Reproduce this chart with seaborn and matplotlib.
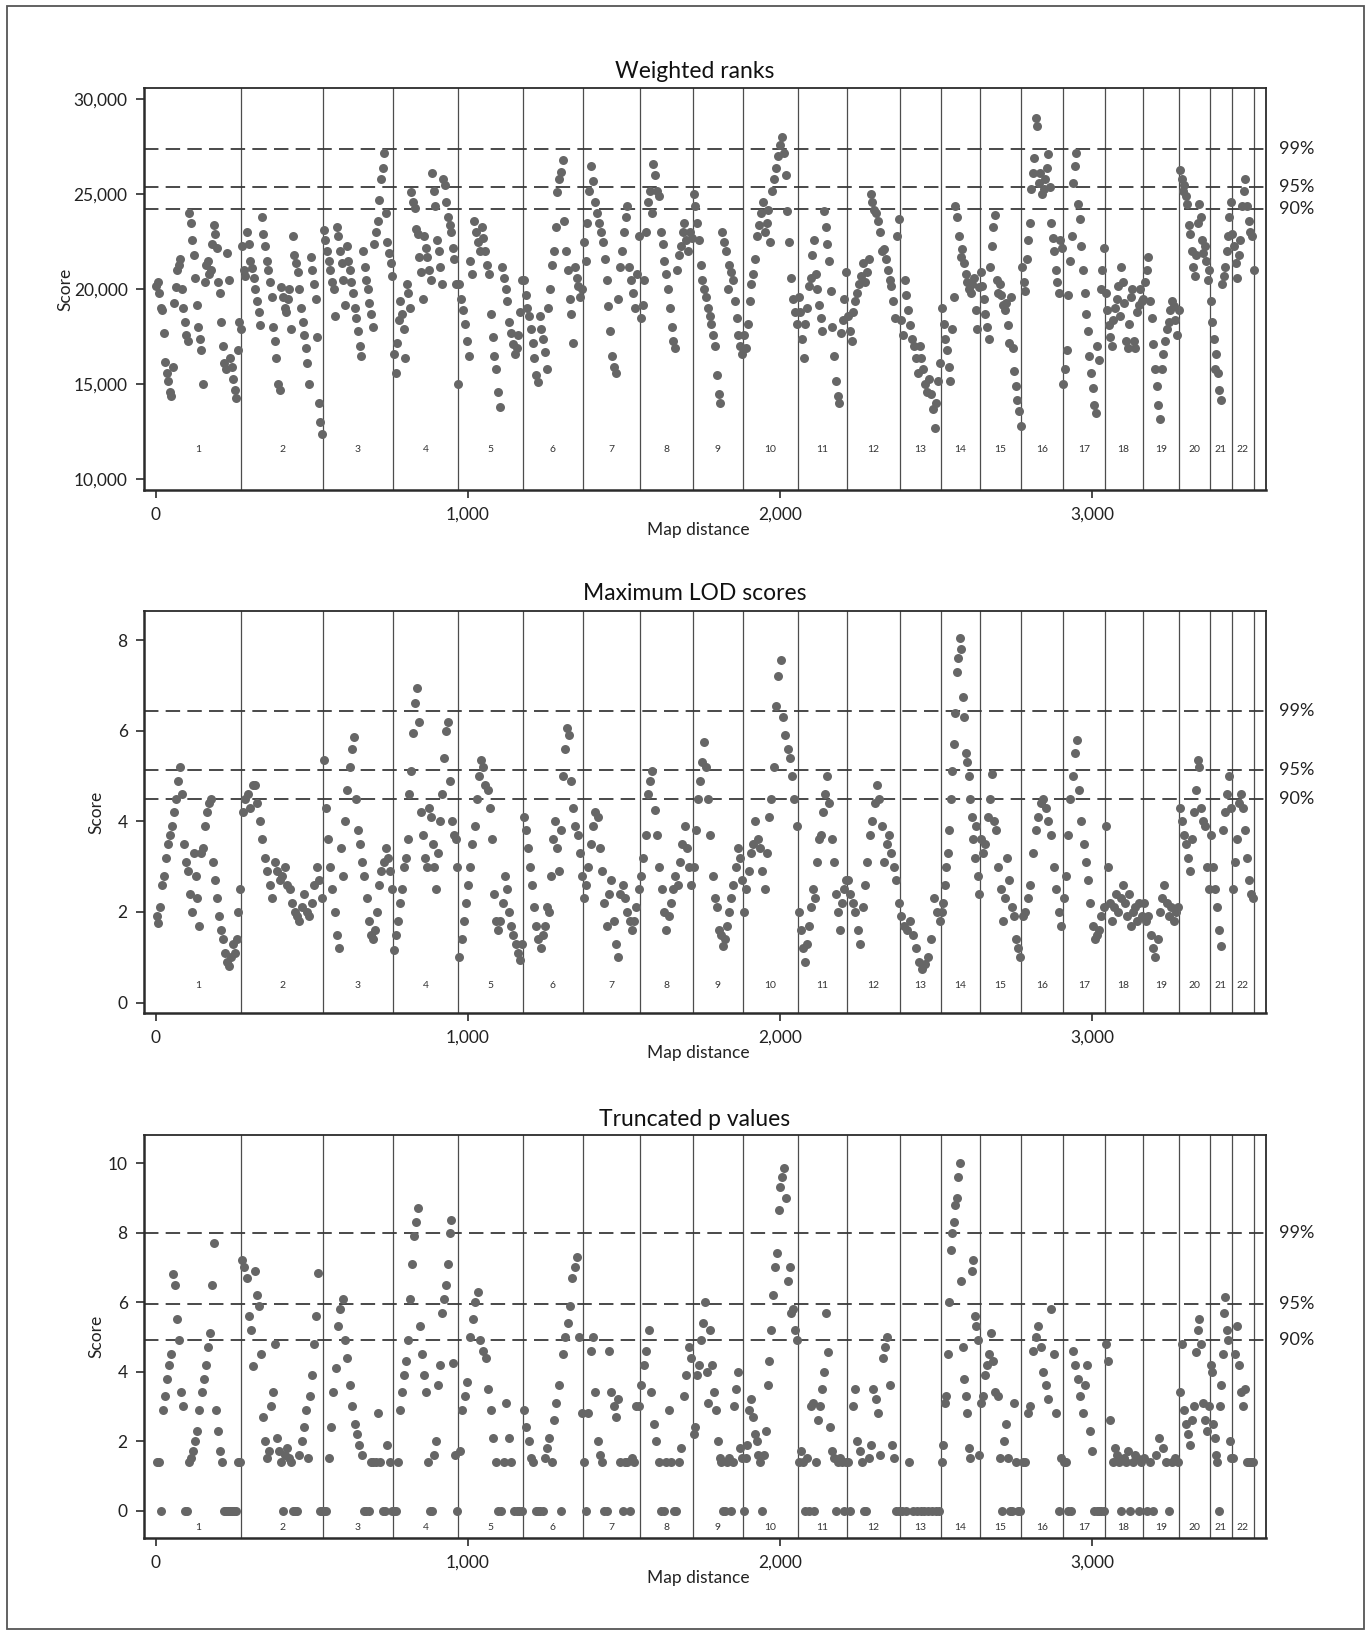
import numpy as np
import pandas as pd
import matplotlib
matplotlib.use("Agg")
import matplotlib.pyplot as plt
import matplotlib.transforms as mtransforms
from matplotlib.patches import Rectangle
from matplotlib.ticker import FuncFormatter
import seaborn as sns

# ---------------- data ----------------
chrom_bounds = [0, 275, 536, 761, 970, 1177, 1368, 1551, 1720, 1881, 2057, 2214,
                2384, 2516, 2640, 2773, 2905, 3040, 3161, 3279, 3377, 3446, 3519]
chrom_labels = [str(i) for i in range(1, 23)]
threshold_names = ["99%", "95%", "90%"]

# Weighted ranks (in thousands), per chromosome, in map order
weighted_ranks_k = [
    [20.2, 20.4, 19.8, 19.0, 18.9, 17.7, 16.2, 15.6, 15.2, 14.6, 14.4, 15.9, 19.3, 20.1, 21.0, 21.3, 21.6, 20.0, 19.0, 18.3, 17.6, 17.3, 24.0, 23.5, 22.6, 21.8, 20.6, 19.2, 18.0, 17.4, 16.8, 15.0, 20.4, 21.3, 21.5, 20.8, 21.0, 22.4, 23.4, 22.9, 22.2, 20.4, 19.8, 18.3, 17.0, 16.1, 15.8, 21.9, 20.5, 16.4, 15.9, 15.3, 14.7, 14.3, 16.8, 18.3, 17.9],
    [22.3, 21.0, 20.7, 23.0, 22.4, 21.5, 21.1, 20.6, 20.0, 19.4, 18.8, 18.1, 23.8, 22.9, 22.3, 21.5, 21.0, 20.4, 19.6, 18.0, 17.3, 16.4, 15.0, 14.7, 20.1, 19.6, 19.0, 18.8, 19.5, 20.0, 17.9, 22.8, 21.8, 21.4, 20.9, 20.0, 19.0, 18.3, 17.6, 16.9, 16.1, 15.0, 21.7, 21.0, 20.3, 19.5, 17.5, 14.0, 13.0, 12.4],
    [23.1, 22.6, 22.0, 21.5, 21.0, 20.4, 20.0, 18.6, 23.3, 22.8, 22.0, 21.4, 20.5, 19.2, 22.3, 21.5, 21.0, 20.4, 19.8, 19.0, 18.5, 17.8, 17.0, 16.5, 22.0, 21.2, 20.5, 20.0, 19.3, 18.7, 18.0, 22.4, 23.0, 23.6, 24.7, 25.8, 26.4, 27.2, 24.0, 22.5, 21.9, 21.4, 20.7],
    [16.6, 15.6, 17.2, 18.4, 19.4, 18.7, 17.9, 16.4, 20.3, 19.8, 19.0, 25.1, 24.6, 24.3, 23.2, 22.9, 21.7, 20.9, 19.5, 22.8, 22.2, 21.7, 21.0, 20.5, 26.1, 25.2, 24.4, 22.6, 22.0, 21.2, 20.3, 25.8, 25.5, 24.6, 23.8, 23.4, 23.0, 22.2, 21.6, 20.3, 15.0],
    [20.3, 19.5, 18.9, 18.2, 17.3, 16.5, 21.5, 20.8, 23.6, 23.0, 22.5, 22.0, 23.3, 22.7, 22.0, 21.3, 20.8, 18.7, 17.5, 16.5, 15.8, 14.6, 13.8, 21.2, 20.6, 20.0, 19.4, 18.3, 17.7, 17.1, 16.6, 16.9, 17.6, 18.8, 20.5],
    [20.5, 19.7, 19.0, 18.6, 17.9, 17.2, 16.4, 15.5, 15.1, 18.6, 17.9, 17.4, 16.7, 15.8, 19.0, 20.0, 21.3, 22.0, 23.3, 25.1, 25.8, 26.2, 26.8, 23.6, 22.0, 21.0, 19.5, 18.7, 17.2, 21.2, 20.6, 20.2, 19.6, 20.0],
    [22.5, 21.5, 23.5, 25.2, 26.5, 25.7, 24.6, 24.0, 23.5, 23.0, 22.5, 21.6, 20.5, 19.1, 17.8, 16.5, 15.9, 15.6, 19.5, 21.2, 22.0, 23.0, 23.8, 24.4, 21.2, 20.5, 19.8, 19.0, 20.8, 22.8],
    [18.5, 19.2, 20.5, 23.0, 24.6, 25.2, 24.0, 26.6, 26.0, 25.2, 24.9, 23.0, 22.4, 21.5, 20.8, 20.0, 19.0, 18.0, 17.3, 16.9, 21.0, 21.8, 22.3, 23.0, 23.5, 22.6, 22.0, 23.0, 22.7],
    [25.0, 24.4, 23.5, 22.6, 21.3, 20.5, 20.0, 19.6, 19.0, 18.6, 18.2, 17.6, 17.0, 15.5, 14.5, 14.0, 23.0, 22.5, 22.0, 20.0, 21.3, 20.9, 20.5, 19.4, 18.5, 17.6, 17.0, 16.6],
    [17.6, 16.9, 18.2, 19.4, 20.3, 20.8, 21.6, 22.8, 23.4, 24.0, 24.6, 23.0, 23.5, 24.2, 22.5, 25.2, 25.8, 26.4, 27.0, 27.6, 28.0, 27.2, 26.0, 24.1, 22.5, 20.6, 19.5, 18.8, 18.2],
    [19.6, 18.8, 17.4, 16.4, 18.2, 19.0, 20.2, 20.6, 21.8, 22.6, 20.8, 20.0, 19.2, 18.5, 17.8, 24.1, 23.3, 22.4, 21.5, 19.9, 18.0, 16.5, 15.2, 14.4, 14.0, 17.7, 18.4, 19.5, 20.9],
    [18.6, 17.8, 17.3, 18.8, 19.4, 19.8, 20.3, 20.7, 21.4, 20.4, 20.9, 21.6, 25.0, 24.6, 24.2, 24.0, 23.6, 23.0, 22.0, 22.1, 21.6, 21.0, 20.5, 20.2, 19.4, 18.5, 22.8, 23.7],
    [18.4, 17.6, 20.5, 19.7, 18.9, 18.1, 17.4, 17.0, 16.4, 15.6, 17.0, 16.4, 15.8, 15.0, 14.6, 15.3, 14.5, 13.7, 12.7, 14.0, 15.2, 16.1],
    [19.0, 18.2, 17.4, 16.8, 15.9, 15.2, 17.9, 19.6, 24.4, 23.8, 22.8, 21.7, 22.1, 21.4, 20.8, 20.4, 20.0, 19.8, 20.3, 20.6, 18.9, 17.9, 20.1],
    [20.9, 20.2, 19.5, 18.7, 18.0, 17.4, 21.2, 22.3, 23.3, 23.9, 20.5, 19.8, 20.3, 19.7, 19.2, 18.9, 19.3, 18.1, 17.2, 19.6, 16.9, 15.7, 14.9, 14.2, 13.6, 12.8],
    [21.2, 20.4, 19.9, 21.6, 22.6, 23.5, 25.3, 26.1, 26.9, 29.0, 28.6, 25.6, 26.1, 25.0, 25.3, 25.8, 26.4, 27.1, 25.4, 23.5, 22.7, 22.0, 21.0, 20.4, 19.8, 22.6, 22.2],
    [15.0, 15.8, 16.8, 19.7, 21.5, 22.8, 25.6, 26.5, 27.2, 24.5, 23.7, 22.3, 21.0, 19.8, 18.7, 17.8, 16.5, 15.6, 14.8, 13.9, 13.5, 17.0, 16.3, 20.0, 21.0, 22.2],
    [19.8, 18.9, 18.1, 17.5, 17.0, 18.4, 19.0, 19.5, 20.2, 18.6, 21.2, 20.4, 19.3, 17.3, 16.9, 18.2, 19.6, 20.0, 17.3, 16.9, 18.8, 19.2, 20.0, 19.4],
    [19.5, 20.4, 21.0, 21.7, 19.4, 18.5, 17.1, 15.8, 14.9, 13.9, 13.2, 15.8, 16.6, 17.3, 17.9, 18.3, 18.9, 19.4, 19.1, 18.4, 17.6, 18.9],
    [26.3, 25.8, 25.2, 25.5, 24.9, 24.5, 23.4, 22.9, 22.0, 21.2, 20.7, 21.8, 23.5, 24.5, 23.8, 22.6, 21.9, 22.3, 21.5, 20.5, 21.0],
    [19.4, 18.3, 17.4, 15.8, 16.6, 15.6, 14.7, 14.2, 20.3, 20.7, 21.2, 22.0, 22.8, 23.8, 24.6],
    [22.9, 22.3, 21.4, 20.6, 21.8, 22.6, 24.4, 25.2, 25.8, 24.4, 23.6, 23.0, 22.8, 21.0],
]

max_lod = [
    [1.9, 1.75, 2.1, 2.6, 2.8, 3.2, 3.5, 3.7, 3.9, 4.2, 4.5, 4.9, 5.2, 4.6, 3.5, 3.1, 2.9, 2.4, 2.0, 3.3, 2.8, 2.3, 1.7, 3.3, 3.4, 3.9, 4.2, 4.4, 4.5, 3.1, 2.7, 2.3, 1.9, 1.6, 1.4, 1.1, 0.9, 0.8, 1.0, 1.3, 1.1, 1.4, 2.0, 2.5],
    [4.2, 4.5, 4.6, 4.3, 4.8, 4.8, 4.4, 4.0, 3.6, 3.2, 2.9, 2.6, 2.3, 3.1, 2.9, 2.7, 2.8, 3.0, 2.6, 2.5, 2.2, 2.0, 1.9, 1.8, 2.1, 2.4, 2.0, 1.9, 2.2, 2.6, 3.0, 2.7, 2.3],
    [5.35, 4.3, 3.6, 3.0, 2.5, 2.0, 1.5, 1.2, 3.4, 2.8, 4.0, 4.7, 5.2, 5.6, 5.85, 4.5, 3.8, 3.5, 3.1, 2.8, 2.3, 1.8, 1.5, 1.4, 1.6, 2.0, 2.6, 2.9, 3.1, 3.4, 3.2, 2.9, 2.5],
    [1.15, 1.5, 1.8, 2.2, 2.5, 3.0, 3.2, 3.6, 4.6, 5.1, 5.95, 6.6, 6.95, 6.2, 4.2, 3.7, 3.2, 3.0, 4.3, 4.1, 3.5, 3.0, 2.5, 3.3, 4.0, 4.6, 5.4, 6.0, 6.2, 4.9, 4.0, 3.7, 3.6, 3.0],
    [1.0, 1.4, 1.8, 2.2, 2.6, 3.0, 3.5, 3.9, 4.5, 5.0, 5.35, 5.2, 4.8, 4.7, 4.3, 3.6, 2.4, 1.8, 1.6, 1.8, 2.2, 2.8, 2.5, 2.0, 1.7, 1.5, 1.3, 1.1, 0.95, 1.3],
    [4.1, 3.8, 3.4, 3.0, 2.6, 2.1, 1.7, 1.4, 1.2, 1.5, 1.7, 2.1, 2.0, 2.8, 3.6, 4.0, 3.4, 2.9, 3.8, 5.0, 5.6, 6.05, 5.9, 4.9, 4.3, 3.9, 3.7, 3.3, 2.8],
    [2.3, 2.6, 3.0, 3.5, 3.9, 4.2, 4.1, 3.4, 2.9, 2.2, 1.7, 2.4, 2.7, 1.8, 1.3, 1.0, 2.4, 2.6, 2.3, 2.0, 1.8, 1.6, 1.8, 2.1, 2.5],
    [2.8, 3.2, 3.7, 4.6, 4.9, 5.1, 4.25, 3.7, 3.0, 2.5, 2.0, 1.6, 1.9, 2.2, 2.5, 2.8, 2.6, 3.1, 3.5, 3.9, 3.4, 3.0, 2.6],
    [3.0, 3.8, 4.5, 4.9, 5.3, 5.75, 5.2, 4.5, 3.7, 2.8, 2.3, 2.1, 1.6, 1.5, 1.25, 1.4, 1.7, 2.0, 2.3, 2.6, 3.0, 3.4, 3.2, 2.7],
    [2.0, 2.5, 2.9, 3.3, 3.5, 4.0, 3.6, 3.4, 2.9, 2.5, 3.3, 4.1, 4.5, 5.2, 6.55, 7.2, 7.55, 6.3, 5.9, 5.6, 5.4, 5.0, 4.5, 3.9],
    [2.0, 1.6, 1.2, 0.9, 1.3, 1.7, 2.1, 2.5, 2.3, 3.1, 3.6, 3.7, 4.2, 4.6, 5.0, 4.4, 3.6, 3.1, 2.4, 2.0, 1.6, 2.2, 2.5, 2.7],
    [2.7, 2.4, 2.2, 2.0, 1.6, 1.3, 2.1, 2.6, 3.1, 3.7, 4.0, 4.4, 4.8, 4.5, 3.9, 3.1, 3.5, 3.7, 3.3, 3.0, 2.7, 2.2],
    [1.9, 1.7, 1.6, 1.8, 1.5, 1.2, 0.9, 0.75, 0.85, 1.0, 1.4, 2.3, 2.0, 1.8],
    [2.0, 2.2, 2.6, 3.0, 3.3, 3.8, 4.5, 5.1, 5.7, 6.4, 7.3, 7.6, 8.05, 7.8, 6.75, 6.3, 5.5, 5.3, 5.0, 4.5, 4.1, 3.6, 3.2, 3.9, 2.8, 2.4],
    [3.6, 3.3, 3.5, 4.1, 4.5, 5.05, 4.0, 3.8, 3.0, 2.5, 1.8, 2.3, 3.2, 2.7, 2.1, 1.9, 1.4, 1.2, 1.0],
    [1.9, 2.0, 2.3, 2.6, 3.3, 3.8, 4.1, 4.4, 4.5, 4.3, 4.0, 3.7, 3.0, 2.5, 2.0, 1.7],
    [2.3, 2.8, 3.7, 4.5, 5.0, 5.5, 5.8, 4.7, 4.0, 3.5, 3.1, 2.7, 2.2, 1.7, 1.4, 1.5, 1.6, 1.9, 2.1],
    [3.9, 3.0, 2.2, 1.8, 2.1, 2.4, 2.0, 2.3, 2.6, 2.2, 1.9, 2.4, 1.7, 2.0, 2.1, 1.8, 2.2, 1.9],
    [2.2, 1.8, 1.9, 1.5, 1.2, 1.0, 1.4, 2.0, 2.3, 2.6, 2.2, 1.9, 2.1, 1.8, 2.0, 2.1],
    [4.3, 4.0, 3.7, 3.5, 3.2, 2.9, 3.6, 4.2, 4.7, 5.35, 5.2, 4.3, 4.0, 3.9, 3.0, 2.5],
    [3.7, 3.0, 2.5, 2.1, 1.6, 1.25, 3.8, 4.2, 4.6, 5.0, 4.3],
    [2.5, 3.1, 3.6, 4.4, 4.6, 4.3, 3.8, 3.2, 2.7, 2.4, 2.3],
]

truncated_p = [
    [1.4, 1.4, 0, 2.9, 3.3, 3.8, 4.2, 4.5, 6.8, 6.5, 5.5, 4.9, 3.4, 3.0, 0, 0, 1.4, 1.5, 1.7, 2.0, 2.3, 2.9, 3.4, 3.8, 4.2, 4.7, 5.1, 6.5, 7.7, 2.9, 2.3, 1.7, 1.4, 0, 0, 0, 0, 0, 0, 0, 1.4, 1.4],
    [7.2, 7.0, 6.7, 5.6, 5.2, 4.15, 6.9, 6.2, 5.9, 4.5, 2.7, 2.0, 1.5, 1.7, 3.0, 3.4, 4.8, 2.1, 1.7, 1.4, 0, 1.6, 1.8, 1.5, 1.4, 0, 0, 0, 1.6, 2.0, 2.4, 2.9, 1.5, 3.3, 3.9, 4.8, 5.6, 6.85, 0, 0],
    [0, 0, 1.5, 2.4, 3.4, 4.1, 5.3, 5.8, 6.1, 4.9, 4.4, 3.6, 3.0, 2.5, 2.2, 1.9, 1.6, 0, 0, 0, 1.4, 1.4, 1.4, 2.8, 1.4, 0, 0, 1.9, 1.4, 0],
    [0, 0, 1.4, 2.9, 3.4, 3.9, 4.3, 4.9, 6.1, 7.1, 7.9, 8.3, 8.7, 5.3, 4.5, 3.9, 3.4, 1.4, 0, 0, 1.6, 2.0, 3.6, 4.2, 5.7, 6.1, 6.5, 7.1, 8.0, 8.35, 4.25, 1.6, 0],
    [1.7, 2.9, 3.3, 3.7, 5.0, 5.5, 6.0, 6.3, 4.9, 4.6, 4.4, 3.5, 2.9, 2.1, 1.4, 0, 0, 1.4, 3.1, 2.1, 1.4, 0, 0, 0, 0],
    [2.9, 2.4, 2.0, 1.5, 1.4, 0, 0, 0, 0, 1.5, 1.8, 2.1, 1.4, 2.6, 3.1, 3.6, 0, 4.5, 5.0, 5.4, 5.9, 6.7, 7.0, 7.3, 5.0, 2.8],
    [1.4, 0, 2.8, 4.6, 5.0, 3.4, 2.0, 1.6, 1.4, 0, 0, 4.6, 3.4, 3.0, 2.7, 3.2, 1.4, 0, 1.4, 1.4, 0, 1.5, 1.4, 3.0, 3.0],
    [3.6, 4.2, 4.6, 5.2, 3.4, 2.5, 2.0, 1.4, 0, 0, 1.4, 2.9, 1.4, 0, 0, 1.4, 1.8, 3.3, 3.9, 4.7, 4.4],
    [2.2, 2.4, 3.9, 4.2, 4.9, 5.4, 6.0, 4.0, 3.1, 5.2, 4.2, 3.4, 2.9, 2.0, 1.5, 1.4, 0, 0, 1.4, 1.5, 0, 1.4, 3.0, 3.5, 4.0, 1.8, 1.5],
    [0, 1.5, 1.9, 2.9, 3.2, 2.7, 2.2, 2.0, 1.6, 1.4, 0, 1.6, 2.3, 3.6, 4.3, 5.2, 6.2, 7.0, 7.4, 8.65, 9.3, 9.6, 9.85, 9.0, 6.6, 7.0, 5.7, 5.8, 5.2, 4.9],
    [1.4, 1.7, 1.4, 0, 1.5, 0, 3.0, 3.1, 0, 1.4, 2.6, 3.0, 3.5, 4.0, 5.7, 4.55, 2.4, 1.7, 1.5, 0, 1.4, 1.5, 1.4, 0, 1.4],
    [1.4, 0, 3.0, 3.5, 2.0, 1.7, 1.4, 0, 0, 1.5, 1.9, 3.5, 3.2, 2.8, 1.6, 4.4, 4.7, 5.0, 3.6, 1.9, 1.5, 0, 0],
    [0, 0, 1.4, 0, 0, 0, 0, 0, 0, 0, 0],
    [1.4, 1.9, 3.1, 3.3, 4.5, 6.0, 7.5, 8.0, 8.3, 8.8, 9.0, 9.6, 10.0, 6.6, 4.7, 3.8, 3.3, 2.8, 1.8, 1.5, 6.9, 7.2, 5.6, 5.3, 4.9, 1.6],
    [3.1, 3.3, 3.9, 4.2, 4.5, 5.1, 4.3, 3.4, 3.3, 1.5, 0, 2.0, 2.5, 1.5, 0, 0, 3.1, 1.4, 0, 0],
    [1.4, 1.4, 2.8, 3.0, 4.6, 5.0, 5.3, 4.7, 4.0, 3.6, 3.2, 5.8, 4.5, 2.8, 0, 1.5],
    [1.4, 1.4, 0, 0, 4.6, 4.2, 3.8, 3.3, 2.8, 3.6, 4.2, 2.3, 1.7, 0, 0, 0, 0, 0],
    [4.8, 4.3, 2.6, 1.4, 1.8, 1.6, 1.4, 0, 1.5, 1.4, 1.7, 0, 1.4, 1.6, 1.5, 0, 1.4],
    [1.5, 0, 1.4, 0, 1.6, 2.1, 1.8, 1.4, 0, 1.4, 1.5, 1.4],
    [3.4, 4.8, 2.9, 2.5, 2.2, 1.9, 2.6, 3.0, 4.55, 5.2, 5.5, 4.8, 3.1, 2.6, 2.3, 3.0],
    [4.2, 4.0, 2.5, 2.1, 1.6, 1.4, 0, 3.0, 3.6, 4.5, 5.7, 6.15, 5.2, 4.9, 2.0, 1.5],
    [1.5, 4.5, 5.3, 4.2, 3.4, 3.0, 3.5, 1.4, 1.4, 1.4, 1.4],
]

thresholds_wr = [27410, 25370, 24230]
thresholds_lod = [6.43, 5.13, 4.50]
thresholds_p = [8.0, 5.95, 4.91]

titles = ["Weighted ranks", "Maximum LOD scores", "Truncated p values"]


def build_df(values_by_chr, scale=1.0):
    rows = []
    for ci, vals in enumerate(values_by_chr):
        start, end = chrom_bounds[ci], chrom_bounds[ci + 1]
        n = len(vals)
        for i, v in enumerate(vals):
            rows.append((start + (i + 0.5) * (end - start) / n, v * scale))
    return pd.DataFrame(rows, columns=["pos", "score"])


df_wr = build_df(weighted_ranks_k, 1000.0)
df_lod = build_df(max_lod)
df_p = build_df(truncated_p)

# ---------------- styling ----------------
sns.set_theme(style="ticks")
plt.rcParams['font.family'] = ['Lato', 'DejaVu Sans']

W, H = 1371, 1637
fig = plt.figure(figsize=(W / 100, H / 100), dpi=100)
fig.patch.set_facecolor("white")

# outer frame
fig.patches.append(Rectangle((7 / W, 1 - 1629 / H), 1357 / W, 1623 / H,
                             transform=fig.transFigure, fill=False,
                             edgecolor="#555555", linewidth=1.3))

left_px, right_px = 144.3, 1266.2
panels = [
    dict(df=df_wr, top=88, bottom=490, ylim=(9440, 30600),
         yticks=[10000, 15000, 20000, 25000, 30000], thr=thresholds_wr,
         chr_y=0.101, ylab_x=65, title_y=71, comma=True),
    dict(df=df_lod, top=611, bottom=1013, ylim=(-0.23, 8.64),
         yticks=[0, 2, 4, 6, 8], thr=thresholds_lod,
         chr_y=0.068, ylab_x=96, title_y=593, comma=False),
    dict(df=df_p, top=1135, bottom=1538, ylim=(-0.79, 10.81),
         yticks=[0, 2, 4, 6, 8, 10], thr=thresholds_p,
         chr_y=0.025, ylab_x=96, title_y=1119, comma=False),
]

comma_fmt = FuncFormatter(lambda v, p: f"{int(round(v)):,}")
spine_col = "#2b2b2b"
dot_col = "#666666"

for k, P in enumerate(panels):
    ax = fig.add_axes([left_px / W, 1 - P["bottom"] / H,
                       (right_px - left_px) / W, (P["bottom"] - P["top"]) / H])
    sns.scatterplot(data=P["df"], x="pos", y="score", ax=ax, color=dot_col,
                    s=42, linewidth=0, legend=False, zorder=3)
    ax.set_xlim(-36, 3557)
    ax.set_ylim(*P["ylim"])

    # chromosome boundaries
    for b in chrom_bounds[1:]:
        ax.axvline(b, color="#4d4d4d", linewidth=0.9, zorder=1)
    # chromosome labels
    trans = mtransforms.blended_transform_factory(ax.transData, ax.transAxes)
    for ci, lab in enumerate(chrom_labels):
        cx = (chrom_bounds[ci] + chrom_bounds[ci + 1]) / 2
        ax.text(cx, P["chr_y"], lab, transform=trans, ha="center", va="center",
                fontsize=7.5, color="#333333")
    # threshold lines
    trans2 = mtransforms.blended_transform_factory(ax.transAxes, ax.transData)
    for val, name in zip(P["thr"], threshold_names):
        ax.axhline(val, color="#3a3a3a", linewidth=1.3,
                   linestyle=(0, (8, 4)), zorder=2)
        ax.text((1279 - left_px) / (right_px - left_px), val, name,
                transform=trans2, ha="left", va="center", fontsize=13,
                color="#222222", clip_on=False)

    ax.set_yticks(P["yticks"])
    ax.set_xticks([0, 1000, 2000, 3000])
    ax.xaxis.set_major_formatter(comma_fmt)
    if P["comma"]:
        ax.yaxis.set_major_formatter(comma_fmt)
    ax.tick_params(axis="both", direction="out", length=6, width=1.2,
                   color=spine_col, labelsize=12.5, labelcolor="#222222", pad=6)

    for side, sp in ax.spines.items():
        sp.set_visible(True)
        sp.set_color(spine_col)
        sp.set_linewidth(1.8 if side in ("left", "bottom") else 1.3)

    ax.set_xlabel("Map distance", fontsize=12.5, color="#222222")
    ax.set_ylabel("Score", fontsize=12.5, color="#222222")
    ax.xaxis.set_label_coords(0.494, -0.10)
    ax.xaxis.label.set_va("center")
    ax.yaxis.set_label_coords((P["ylab_x"] - left_px) / (right_px - left_px), 0.5)
    ax.yaxis.label.set_va("center")

    fig.text(695 / W, 1 - P["title_y"] / H, titles[k], ha="center", va="center",
             fontsize=16.5, color="#111111")

fig.savefig("out.png", dpi=100, facecolor="white")
